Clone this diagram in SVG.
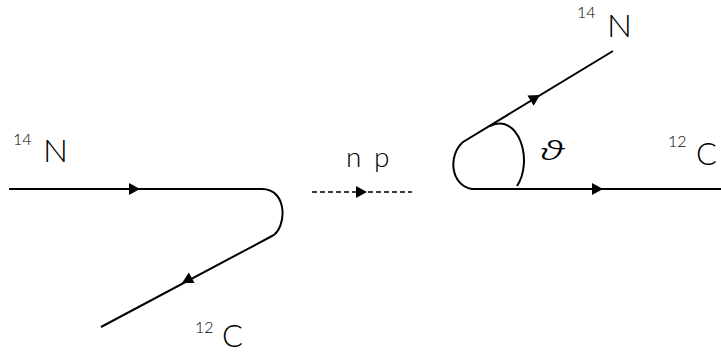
<svg xmlns="http://www.w3.org/2000/svg" width="721" height="354" viewBox="0 0 721 354">
<style>
.ln{fill:none;stroke:#000;stroke-width:2;stroke-linecap:butt;stroke-linejoin:round}
.dash{fill:none;stroke:#000;stroke-width:1.6;stroke-dasharray:5 3}
.big{font-family:Lato,"Liberation Sans",sans-serif;font-weight:300;font-size:31px;fill:#000}
.sup{font-family:Lato,"Liberation Sans",sans-serif;font-weight:300;font-size:16px;fill:#000}
.np{font-family:Lato,"Liberation Sans",sans-serif;font-weight:300;font-size:28px;fill:#000}
.th{font-family:"Noto Sans",sans-serif;font-style:italic;font-weight:300;font-size:25px;fill:#000}
</style>
<defs>
<path id="ah" d="M0,0 L-11,-6 L-11,6 Z" fill="#000"/>
</defs>
<rect width="721" height="354" fill="#fff"/>
<g id="connectors">
<path class="ln" d="M9,189 H262 C288,189 287,228 272,236 L101,327"/>
<use href="#ah" transform="translate(140,189)"/>
<use href="#ah" transform="translate(182,283) rotate(151.7)"/>
<path class="dash" d="M312,192 H412"/>
<use href="#ah" transform="translate(367,192)"/>
<path class="ln" d="M613,51 L463,142 C448,155 450,185 472,189 H721"/>
<use href="#ah" transform="translate(540,95) rotate(-31.2)"/>
<use href="#ah" transform="translate(603,189)"/>
<path class="ln" d="M490,126 C518,112 534,160 517,186"/>
</g>
<g id="label-N-left"><text class="sup" x="13" y="145">14</text><text class="big" x="43" y="162" textLength="25" lengthAdjust="spacingAndGlyphs">N</text></g>
<g id="label-C-left"><text class="sup" x="195" y="333">12</text><text class="big" x="222" y="347">C</text></g>
<g id="label-np"><text class="np" y="167"><tspan x="346">n</tspan><tspan x="374">p</tspan></text></g>
<g id="label-N-right"><text class="sup" x="577" y="18">14</text><text class="big" x="607" y="37" textLength="25" lengthAdjust="spacingAndGlyphs">N</text></g>
<g id="label-C-right"><text class="sup" x="668" y="147">12</text><text class="big" x="696" y="165">C</text></g>
<g id="label-theta"><text class="th" x="0" y="0" transform="translate(541,160) scale(1.75,1)">ϑ</text></g>
</svg>
